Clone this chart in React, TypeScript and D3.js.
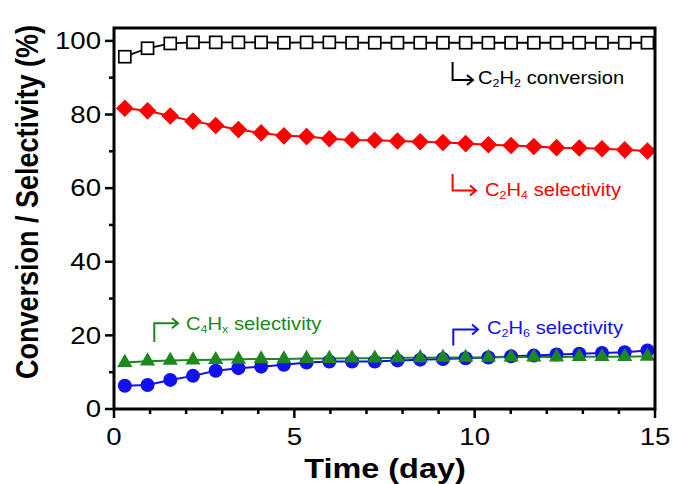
import React from "react";
import * as d3 from "d3";

const times = [0.3, 0.93, 1.56, 2.19, 2.82, 3.45, 4.08, 4.71, 5.34, 5.97, 6.6, 7.23, 7.86, 8.49, 9.12, 9.75, 10.38, 11.01, 11.64, 12.27, 12.9, 13.53, 14.16, 14.79];
const c2h2Conversion = [95.7, 98.0, 99.3, 99.6, 99.6, 99.6, 99.6, 99.5, 99.6, 99.6, 99.5, 99.5, 99.5, 99.5, 99.5, 99.5, 99.5, 99.5, 99.5, 99.5, 99.5, 99.5, 99.5, 99.5];
const c2h4Selectivity = [81.7, 81.0, 79.6, 78.2, 77.0, 75.9, 75.0, 74.2, 74.0, 73.4, 73.1, 73.0, 72.8, 72.6, 72.4, 72.1, 71.8, 71.6, 71.3, 71.0, 70.9, 70.7, 70.4, 70.1];
const c2h6Selectivity = [6.3, 6.5, 7.9, 9.0, 10.4, 11.1, 11.5, 12.0, 12.6, 12.9, 12.9, 12.9, 13.2, 13.4, 13.6, 13.8, 14.0, 14.3, 14.5, 14.8, 15.0, 15.2, 15.4, 15.9];
const c4hxSelectivity = [12.6, 13.0, 13.2, 13.3, 13.4, 13.5, 13.6, 13.6, 13.7, 13.7, 13.8, 13.8, 13.9, 13.9, 14.0, 14.0, 14.0, 14.1, 14.1, 14.1, 14.2, 14.2, 14.2, 14.3];
const xTicks = [0, 5, 10, 15];
const yTicks = [0, 20, 40, 60, 80, 100];

const RED = "#ff0000";
const BLUE = "#1010f0";
const GREEN = "#1e871e";
const FONT = "'Liberation Sans', Arial, sans-serif";

export default function App() {
  const x = d3.scaleLinear().domain([0, 15]).range([114, 655]);
  const y = d3.scaleLinear().domain([0, 103.5]).range([409, 28]);
  const line = (vals: number[]) =>
    d3.line<number>().x((_, i) => x(times[i])).y((v) => y(v))(vals) || "";
  const xMinor = d3.range(0, 16, 1);
  const yMinor = d3.range(0, 101, 10);
  const SX = 1.2;

  const arrowHead = (hx: number, hy: number, color: string) => (
    <path d={`M${hx - 6},${hy - 5} L${hx},${hy} L${hx - 6},${hy + 5}`} fill="none" stroke={color} strokeWidth={2} />
  );

  const label = (tx: number, ty: number, a: string, b: string, rest: string, color: string) => (
    <g transform={`translate(${tx},${ty}) scale(1.12,1)`}>
      <text fontFamily={FONT} fontSize={18} fill={color}>
        C<tspan fontSize="0.62em" dy="0.25em">{a}</tspan>
        <tspan dy="-0.155em">H</tspan>
        <tspan fontSize="0.62em" dy="0.25em">{b}</tspan>
        <tspan dy="-0.155em">{rest}</tspan>
      </text>
    </g>
  );

  return (
    <svg width={676} height={484} style={{ position: "absolute", left: 0, top: 0, background: "#fff" }}>
      <rect width={676} height={484} fill="#fff" />
      {/* series lines */}
      <path d={line(c2h2Conversion)} fill="none" stroke="#000" strokeWidth={1.8} />
      <path d={line(c2h4Selectivity)} fill="none" stroke={RED} strokeWidth={2} />
      <path d={line(c2h6Selectivity)} fill="none" stroke={BLUE} strokeWidth={2} />
      <path d={line(c4hxSelectivity)} fill="none" stroke={GREEN} strokeWidth={2} />
      {/* markers */}
      {c2h2Conversion.map((v, i) => (
        <rect key={"s" + i} x={x(times[i]) - 6} y={y(v) - 6} width={12} height={12} fill="#fff" stroke="#000" strokeWidth={1.7} />
      ))}
      {c2h4Selectivity.map((v, i) => (
        <path key={"d" + i} d={d3.symbol(d3.symbolSquare, 155)() || ""} transform={`translate(${x(times[i])},${y(v)}) rotate(45)`} fill={RED} />
      ))}
      {c2h6Selectivity.map((v, i) => (
        <circle key={"c" + i} cx={x(times[i])} cy={y(v)} r={7} fill={BLUE} />
      ))}
      {c4hxSelectivity.map((v, i) => (
        <path key={"t" + i} d={d3.symbol(d3.symbolTriangle, 100)() || ""} transform={`translate(${x(times[i])},${y(v)})`} fill={GREEN} />
      ))}
      {/* frame */}
      <rect x={114} y={28} width={541} height={381} fill="none" stroke="#000" strokeWidth={3} />
      {/* ticks */}
      {xMinor.map((t) => (
        <line key={"xm" + t} x1={x(t)} x2={x(t)} y1={409} y2={t % 5 === 0 ? 418 : 414} stroke="#000" strokeWidth={2.5} />
      ))}
      {yMinor.map((t) => (
        <line key={"ym" + t} x1={t % 20 === 0 ? 105 : 109} x2={114} y1={y(t)} y2={y(t)} stroke="#000" strokeWidth={2.5} />
      ))}
      {xTicks.map((t) => (
        <g key={"xl" + t} transform={`translate(${x(t)},445) scale(${SX},1)`}>
          <text textAnchor="middle" fontFamily={FONT} fontSize={23} fill="#000">{t}</text>
        </g>
      ))}
      {yTicks.map((t) => (
        <g key={"yl" + t} transform={`translate(101,${y(t)}) scale(${SX},1)`}>
          <text textAnchor="end" dy="0.36em" fontFamily={FONT} fontSize={23} fill="#000">{t}</text>
        </g>
      ))}
      {/* axis titles */}
      <g transform={`translate(385,478) scale(1.2,1)`}>
        <text textAnchor="middle" fontFamily={FONT} fontWeight="bold" fontSize={27} fill="#000">Time (day)</text>
      </g>
      <g transform={`translate(38,202) scale(1.13,1) rotate(-90)`}>
        <text textAnchor="middle" fontFamily={FONT} fontWeight="bold" fontSize={27} fill="#000">Conversion / Selectivity (%)</text>
      </g>
      {/* annotations */}
      <path d="M452.6,62 V80 H472" fill="none" stroke="#000" strokeWidth={2} />
      {arrowHead(473, 80, "#000")}
      <path d="M452.6,174 V190.6 H475" fill="none" stroke={RED} strokeWidth={2} />
      {arrowHead(476, 190.6, RED)}
      <path d="M154.3,342 V323.3 H177" fill="none" stroke={GREEN} strokeWidth={2} />
      {arrowHead(178, 323.3, GREEN)}
      <path d="M453.3,345.6 V329.4 H477" fill="none" stroke={BLUE} strokeWidth={2} />
      {arrowHead(478, 329.4, BLUE)}
      {label(478, 84, "2", "2", " conversion", "#000")}
      {label(485, 196, "2", "4", " selectivity", RED)}
      {label(186, 330, "4", "x", " selectivity", GREEN)}
      {label(487, 334, "2", "6", " selectivity", BLUE)}
    </svg>
  );
}
